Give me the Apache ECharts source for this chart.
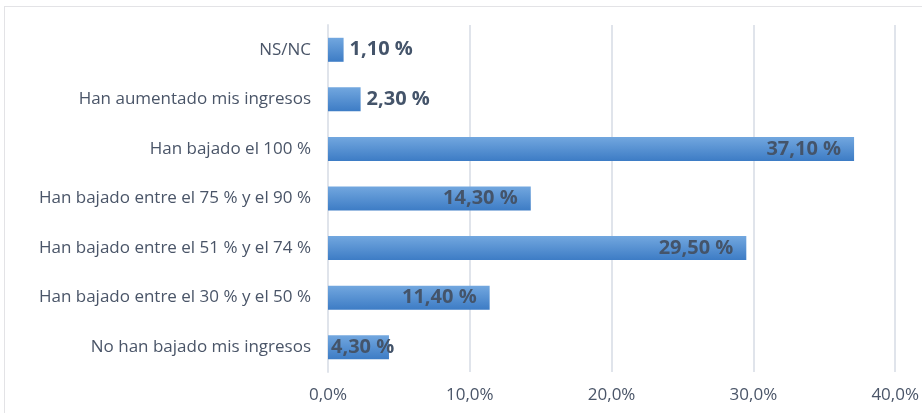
<!DOCTYPE html>
<html>
<head>
<meta charset="utf-8">
<script src="https://cdn.jsdelivr.net/npm/echarts@6/dist/echarts.min.js"></script>
<style>
  html, body { margin: 0; padding: 0; background: #fff; }
  #frame { position: absolute; left: 4px; top: 6px; width: 940px; height: 420px; border: 1px solid #e3e3e6; }
  #chart { position: absolute; left: 0; top: 0; width: 922px; height: 413px; }
</style>
</head>
<body>
<div id="frame"></div>
<div id="chart"></div>
<script>
// categorias de abajo a arriba (como en el eje)
var categorias = [
  'No han bajado mis ingresos',
  'Han bajado entre el 30 % y el 50 %',
  'Han bajado entre el 51 % y el 74 %',
  'Han bajado entre el 75 % y el 90 %',
  'Han bajado el 100 %',
  'Han aumentado mis ingresos',
  'NS/NC'
]
var valores = [4.3, 11.4, 29.5, 14.3, 37.1, 2.3, 1.1]
var ticks = [0, 10, 20, 30, 40]

function fmt(v) { return v.toFixed(2).replace('.', ',') + ' %' }

var chart = echarts.init(document.getElementById('chart'))
chart.setOption({
  animation: false,
  grid: { left: 328, right: 26, top: 25, bottom: 41 },
  xAxis: {
    type: 'value',
    min: ticks[0],
    max: ticks[ticks.length - 1],
    interval: 10,
    axisLine: { show: false },
    axisTick: { show: false },
    splitLine: { lineStyle: { color: '#e0e4eb', width: 2 } },
    axisLabel: {
      color: '#4a5568',
      fontFamily: 'Open Sans',
      fontSize: 17,
      margin: 15,
      formatter: function (v) { return v.toFixed(1).replace('.', ',') + '%' }
    }
  },
  yAxis: {
    type: 'category',
    data: categorias,
    axisLine: { lineStyle: { color: '#e0e4eb', width: 2 } },
    axisTick: { show: false },
    axisLabel: {
      color: '#4a5568',
      fontFamily: 'Open Sans',
      fontSize: 17,
      margin: 17
    }
  },
  series: [{
    type: 'bar',
    barWidth: 24,
    data: valores.map(function (v) {
      // etiquetas fuera para barras cortas, dentro al final para el resto
      var pos = v < 3 ? 'right' : (v < 5 ? 'insideLeft' : 'insideRight')
      var dist = v < 3 ? 6 : (v < 5 ? 3 : 13)
      return { value: v, label: { position: pos, distance: dist } }
    }),
    itemStyle: {
      color: new echarts.graphic.LinearGradient(0, 0, 0, 1, [
        { offset: 0, color: '#72a7df' },
        { offset: 1, color: '#3d7cc5' }
      ])
    },
    label: {
      show: true,
      color: '#44546a',
      fontFamily: 'Open Sans',
      fontWeight: 'bold',
      fontSize: 20,
      formatter: function (p) { return fmt(p.value) }
    }
  }]
})
</script>
</body>
</html>
